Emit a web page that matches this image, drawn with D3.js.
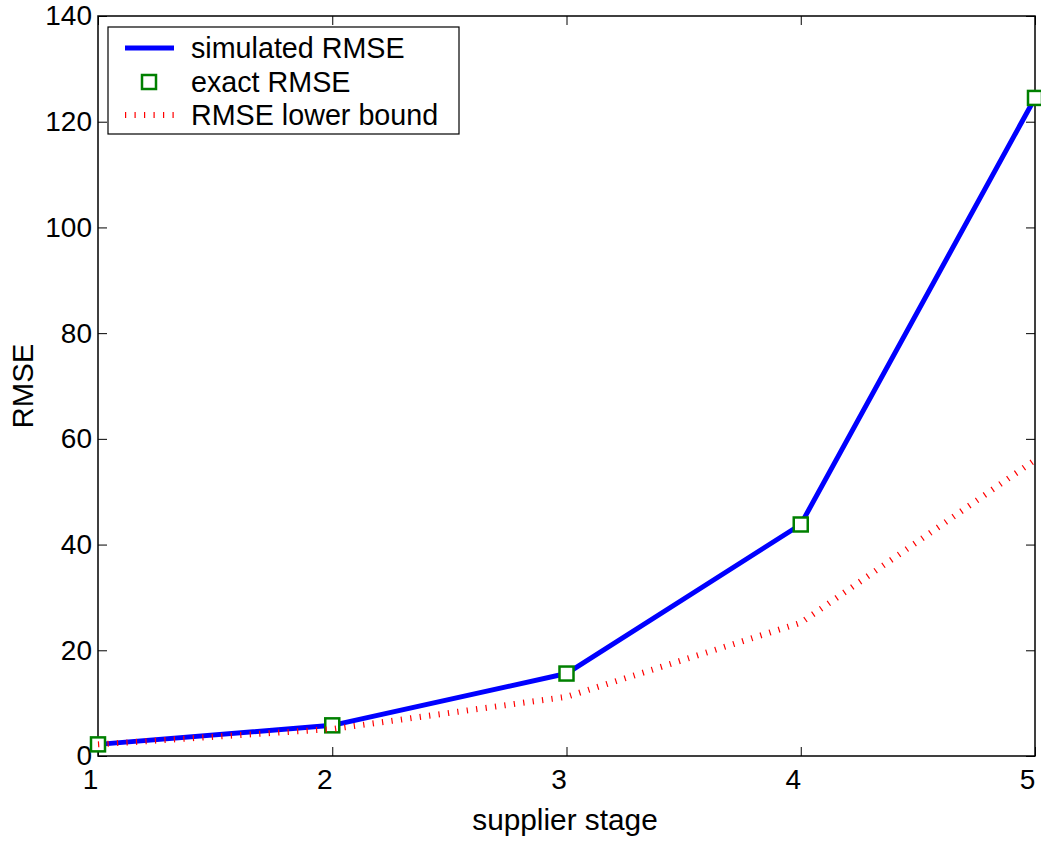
<!DOCTYPE html>
<html>
<head>
<meta charset="utf-8">
<script src="https://cdn.jsdelivr.net/npm/d3@7"></script>
<style>
  html, body { margin: 0; padding: 0; background: #fff; }
  svg { display: block; }
  text { font-family: "Liberation Sans", Arial, Helvetica, sans-serif; }
</style>
</head>
<body>
<svg id="chart" width="1041" height="843"></svg>
<script>
// ---- data ----
const stages = [1, 2, 3, 4, 5];
const simulatedRMSE = [2.2, 5.8, 15.6, 43.8, 124.5];
const exactRMSE = [2.2, 5.8, 15.6, 43.8, 124.5];
const lowerBound = [2.2, 5.1, 11.2, 25.2, 56.0];
const xTicks = [1, 2, 3, 4, 5];
const yTicks = [0, 20, 40, 60, 80, 100, 120, 140];
const legendLabels = ["simulated RMSE", "exact RMSE", "RMSE lower bound"];
const xLabel = "supplier stage";
const yLabel = "RMSE";

// ---- layout ----
const svg = d3.select("#chart");
const L = 98, R = 1035, T = 16, B = 756;
const x = d3.scaleLinear().domain([1, 5]).range([L, R]);
const y = d3.scaleLinear().domain([0, 140]).range([B, T]);
const FS = 28;

// axes
const gB = svg.append("g").attr("transform", `translate(0,${B})`)
  .call(d3.axisBottom(x).tickValues(xTicks).tickFormat(d3.format("d")).tickSize(-9).tickPadding(13));
gB.selectAll("text").attr("dx", -8);
const gL = svg.append("g").attr("transform", `translate(${L},0)`)
  .call(d3.axisLeft(y).tickValues(yTicks).tickSize(-9).tickPadding(6));
const gT = svg.append("g").attr("transform", `translate(0,${T})`)
  .call(d3.axisTop(x).tickValues(xTicks).tickFormat("").tickSize(-9));
const gR = svg.append("g").attr("transform", `translate(${R},0)`)
  .call(d3.axisRight(y).tickValues(yTicks).tickFormat("").tickSize(-9));
[gB, gL, gT, gR].forEach(g => {
  g.select(".domain").remove();
  g.selectAll("line").attr("stroke", "#000").attr("stroke-width", 1);
  g.selectAll("text").attr("font-size", FS).attr("fill", "#000")
    .attr("font-family", "Liberation Sans, Arial, sans-serif");
});
svg.append("rect").attr("x", L).attr("y", T).attr("width", R - L).attr("height", B - T)
  .attr("fill", "none").attr("stroke", "#000").attr("stroke-width", 1.5);

// labels
svg.append("text").attr("x", 565).attr("y", 830).attr("text-anchor", "middle")
  .attr("font-size", 29.8).text(xLabel);
svg.append("text").attr("transform", `translate(33,${(T + B) / 2}) rotate(-90)`)
  .attr("text-anchor", "middle").attr("font-size", 29.4).text(yLabel);

// series
const line = d3.line().x((d, i) => x(stages[i])).y(d => y(d));
svg.append("path").datum(simulatedRMSE).attr("d", line)
  .attr("fill", "none").attr("stroke", "#0000ff").attr("stroke-width", 5)
  .attr("stroke-linejoin", "round");
svg.selectAll(".sq").data(exactRMSE).enter().append("rect")
  .attr("x", (d, i) => x(stages[i]) - 7).attr("y", d => y(d) - 7)
  .attr("width", 14).attr("height", 14)
  .attr("fill", "#fff").attr("stroke", "#008000").attr("stroke-width", 2.5);
svg.append("path").datum(lowerBound).attr("d", line)
  .attr("fill", "none").attr("stroke", "#ff0000").attr("stroke-width", 6)
  .attr("stroke-dasharray", "1.2 8.3");

// legend
const lg = svg.append("g");
lg.append("rect").attr("x", 108).attr("y", 27).attr("width", 351).attr("height", 107)
  .attr("fill", "#fff").attr("stroke", "#000").attr("stroke-width", 1.2);
const rows = [48, 82, 115];
lg.append("line").attr("x1", 125).attr("x2", 174).attr("y1", rows[0]).attr("y2", rows[0])
  .attr("stroke", "#0000ff").attr("stroke-width", 5);
lg.append("rect").attr("x", 149 - 7).attr("y", rows[1] - 7).attr("width", 14).attr("height", 14)
  .attr("fill", "#fff").attr("stroke", "#008000").attr("stroke-width", 2.5);
lg.append("line").attr("x1", 125).attr("x2", 175).attr("y1", rows[2]).attr("y2", rows[2])
  .attr("stroke", "#ff0000").attr("stroke-width", 6).attr("stroke-dasharray", "1.2 8.3");
lg.selectAll(".lt").data(legendLabels).enter().append("text")
  .attr("x", 191).attr("y", (d, i) => rows[i] + 10).attr("font-size", 28.7).text(d => d);
</script>
</body>
</html>
